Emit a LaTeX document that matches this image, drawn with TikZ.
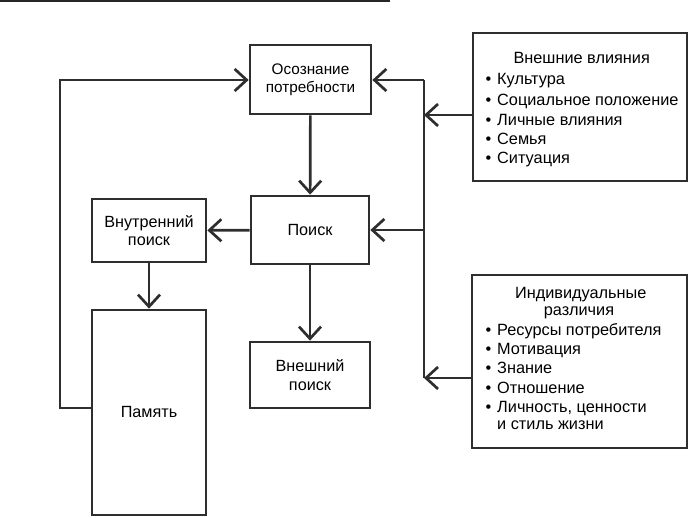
\documentclass[tikz,border=0pt]{standalone}
\usepackage{fontspec}
\setmainfont{Liberation Sans}
\usetikzlibrary{arrows.meta}
\tikzset{
  ln/.style={draw=black!82, line width=2.7pt},
  box/.style={ln, rectangle, inner sep=0pt, align=center, font=\fontsize{16.2}{18.5}\selectfont},
  txt/.style={inner sep=0pt, anchor=base west, font=\fontsize{16.3}{19}\selectfont},
  ttl/.style={inner sep=0pt, anchor=base, font=\fontsize{16.3}{19}\selectfont},
  arr/.style={ln, -{Straight Barb[length=12pt,width=22pt,line width=2.7pt]}},
}
\newcommand{\bul}{\makebox[11.5pt][l]{•}}
\begin{document}
\begin{tikzpicture}[x=1pt,y=-1pt]
\useasboundingbox (0,0) rectangle (691,518);
\coordinate (r1) at (0,1.5);
\coordinate (r2) at (390,1.5);
\draw[draw=black!85, line width=2pt] (r1) -- (r2);

\node[box, minimum width=121pt, minimum height=69pt, font=\fontsize{15.3}{18.5}\selectfont] (oso) at (310.5,79.5) {Осознание\\потребности};
\node[box, minimum width=118pt, minimum height=68pt] (poi) at (310,230) {Поиск};
\node[box, minimum width=120pt, minimum height=66pt] (ext) at (310,375) {Внешний\\поиск};
\node[box, minimum width=114pt, minimum height=63pt] (int) at (149,230.5) {Внутренний\\поиск};
\node[box, minimum width=114pt, minimum height=205pt] (mem) at (149,412.5) {Память};
\node[box, minimum width=214pt, minimum height=148pt] (inf) at (580,107) {};
\node[box, minimum width=215pt, minimum height=173pt] (ind) at (579.5,361.5) {};

% texts of external influences
\node[ttl] (inft) at (581.7,63.2) {Внешние влияния};
\node[txt] (inf1) at (485.5,84.8) {\bul Культура};
\node[txt] (inf2) at (485.5,105.5) {\bul Социальное положение};
\node[txt] (inf3) at (485.5,125.3) {\bul Личные влияния};
\node[txt] (inf4) at (485.5,144.2) {\bul Семья};
\node[txt] (inf5) at (485.5,163.2) {\bul Ситуация};

% texts of individual differences
\node[ttl] (indt1) at (580.8,298.8) {Индивидуальные};
\node[ttl] (indt2) at (579,316) {различия};
\node[txt] (ind1) at (485.5,335.5) {\bul Ресурсы потребителя};
\node[txt] (ind2) at (485.5,354.5) {\bul Мотивация};
\node[txt] (ind3) at (485.5,373.5) {\bul Знание};
\node[txt] (ind4) at (485.5,393.2) {\bul Отношение};
\node[txt] (ind5) at (485.5,412.2) {\bul Личность, ценности};
\node[txt] (ind6) at (497,429.5) {и стиль жизни};

% main flow
\draw[arr] (oso) -- (poi);
\draw[arr] (poi) -- (int);
\draw[arr] (int) -- (mem);
\draw[arr] (poi) -- (ext);

% feedback from memory
\coordinate (lb) at (60,408);
\coordinate (lt) at (60,80);
\draw[arr] (mem.west |- lb) -- (lb) -- (lt) -- (oso.west |- lt);

% right collector
\coordinate (rt) at (424,80);
\coordinate (rb) at (424,378);
\coordinate (rm) at (424,230);
\coordinate (ri) at (424,115);
\draw[ln] (rt) -- (rb);
\draw[arr] (rt) -- (oso.east |- rt);
\draw[arr] (rm) -- (poi.east |- rm);
\draw[arr] (inf.west |- ri) -- (ri);
\draw[arr] (ind.west |- rb) -- (rb);
\end{tikzpicture}
\end{document}
